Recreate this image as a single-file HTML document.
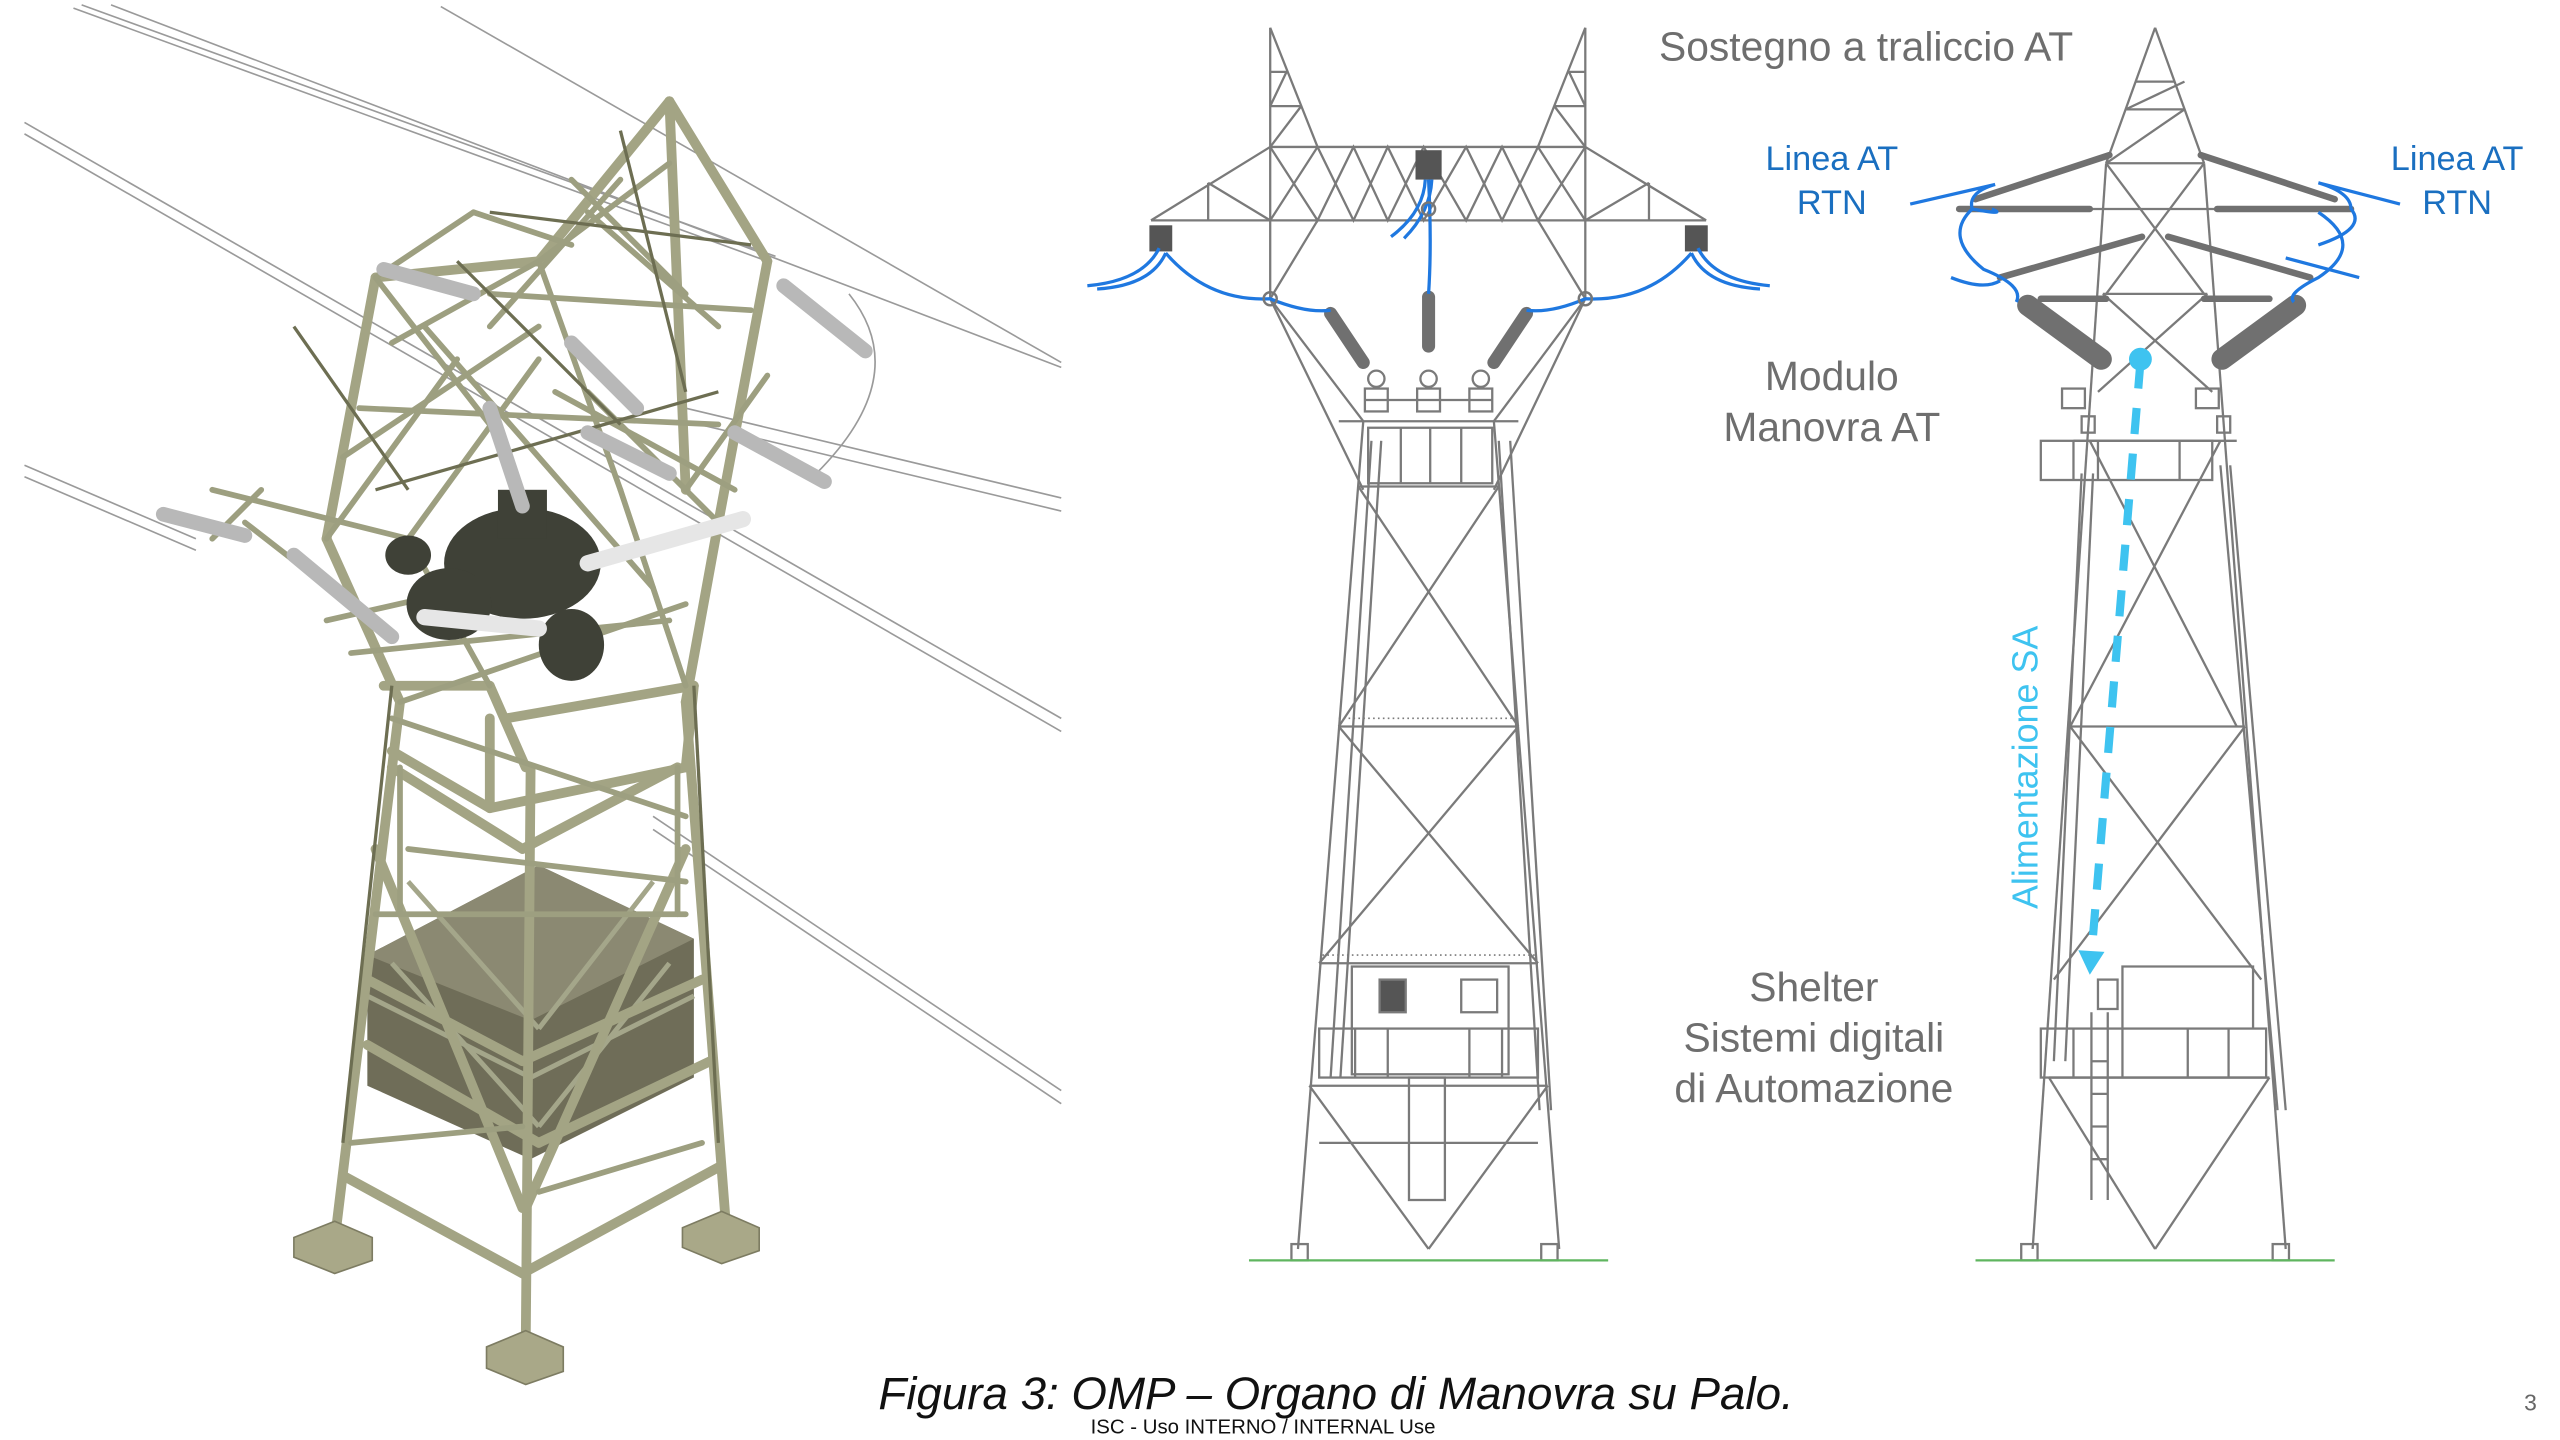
<!DOCTYPE html>
<html><head><meta charset="utf-8"><style>
html,body{margin:0;padding:0;background:#fff;}
svg{display:block;}
</style></head><body>
<svg width="2560" height="1440" viewBox="0 0 1568 882" xmlns="http://www.w3.org/2000/svg" font-family="Liberation Sans, sans-serif">
<rect width="1568" height="882" fill="#fff"/>

<!-- ===== LEFT 3D TOWER ===== -->
<g stroke="#9a9a9a" stroke-width="1" fill="none">
  <line x1="45" y1="5" x2="470" y2="160"/><line x1="50" y1="3" x2="475" y2="157"/>
  <line x1="68" y1="3" x2="650" y2="225"/><line x1="270" y1="4" x2="650" y2="222"/>
  <line x1="15" y1="75" x2="650" y2="440"/><line x1="15" y1="82" x2="650" y2="448"/>
  <line x1="15" y1="285" x2="120" y2="330"/><line x1="15" y1="292" x2="120" y2="337"/>
  <line x1="420" y1="250" x2="650" y2="305"/><line x1="420" y1="258" x2="650" y2="313"/>
  <line x1="400" y1="500" x2="650" y2="668"/><line x1="400" y1="508" x2="650" y2="676"/>
  <path d="M500 290 Q560 230 520 180"/>
</g>
<!-- shelter box -->
<polygon points="225,585 330,530 425,575 425,660 325,710 225,665" fill="#6f6d58"/>
<polygon points="225,585 330,530 425,575 325,625" fill="#8b8972"/>
<g stroke="#a4a68a" stroke-width="3" fill="none">
  <line x1="225" y1="610" x2="325" y2="660"/><line x1="325" y1="660" x2="425" y2="610"/>
  <line x1="240" y1="590" x2="330" y2="690"/><line x1="410" y1="590" x2="330" y2="690"/>
  <line x1="250" y1="540" x2="330" y2="630"/><line x1="400" y1="540" x2="330" y2="630"/>
</g>
<g stroke="#a3a484" stroke-width="6" fill="none" stroke-linecap="round">
  <!-- legs -->
  <line x1="245" y1="430" x2="205" y2="760"/><line x1="420" y1="430" x2="445" y2="755"/>
  <line x1="325" y1="470" x2="322" y2="825"/><line x1="300" y1="420" x2="322" y2="470"/>
  <line x1="235" y1="420" x2="300" y2="420"/>
  <line x1="240" y1="470" x2="320" y2="520"/><line x1="320" y1="520" x2="415" y2="470"/>
  <line x1="210" y1="720" x2="320" y2="780"/><line x1="320" y1="780" x2="440" y2="715"/>
  <line x1="225" y1="600" x2="320" y2="650"/><line x1="320" y1="650" x2="430" y2="600"/>
  <line x1="230" y1="520" x2="320" y2="740"/><line x1="420" y1="520" x2="322" y2="740"/>
  <line x1="410" y1="62" x2="330" y2="160"/><line x1="410" y1="62" x2="470" y2="160"/>
  <line x1="410" y1="62" x2="420" y2="300"/><line x1="330" y1="160" x2="230" y2="170"/>
  <line x1="230" y1="170" x2="200" y2="330"/><line x1="470" y1="160" x2="440" y2="320"/>
  <line x1="200" y1="330" x2="245" y2="430"/><line x1="440" y1="320" x2="420" y2="430"/>
  <line x1="310" y1="440" x2="425" y2="420"/><line x1="300" y1="495" x2="420" y2="470"/>
  <line x1="300" y1="440" x2="300" y2="495"/><line x1="425" y1="420" x2="420" y2="470"/>
  <line x1="240" y1="460" x2="300" y2="495"/>
  <line x1="225" y1="640" x2="330" y2="700"/><line x1="330" y1="700" x2="435" y2="650"/>
</g>
<g stroke="#9d9f80" stroke-width="3.5" fill="none" stroke-linecap="round">
  <line x1="230" y1="170" x2="300" y2="260"/><line x1="330" y1="160" x2="380" y2="300"/>
  <line x1="130" y1="300" x2="250" y2="330"/><line x1="250" y1="330" x2="330" y2="220"/>
  <line x1="360" y1="130" x2="440" y2="200"/><line x1="300" y1="180" x2="460" y2="190"/>
  <line x1="220" y1="250" x2="440" y2="260"/><line x1="210" y1="280" x2="330" y2="200"/>
  <line x1="340" y1="240" x2="450" y2="300"/><line x1="260" y1="200" x2="400" y2="360"/>
  <line x1="380" y1="110" x2="300" y2="200"/><line x1="150" y1="320" x2="240" y2="390"/>
  <line x1="350" y1="110" x2="420" y2="180"/><line x1="330" y1="160" x2="410" y2="100"/>
  <line x1="230" y1="170" x2="290" y2="130"/><line x1="290" y1="130" x2="350" y2="150"/>
  <line x1="240" y1="210" x2="330" y2="160"/><line x1="200" y1="330" x2="280" y2="220"/>
  <line x1="440" y1="320" x2="360" y2="240"/><line x1="420" y1="300" x2="470" y2="230"/>
  <line x1="250" y1="330" x2="300" y2="420"/><line x1="380" y1="300" x2="420" y2="420"/>
  <line x1="200" y1="380" x2="420" y2="330"/><line x1="215" y1="400" x2="410" y2="380"/>
  <line x1="245" y1="430" x2="420" y2="370"/><line x1="160" y1="300" x2="130" y2="330"/>
  <line x1="245" y1="470" x2="245" y2="560"/><line x1="415" y1="470" x2="415" y2="560"/>
  <line x1="230" y1="560" x2="420" y2="560"/><line x1="240" y1="440" x2="420" y2="500"/>
  <line x1="250" y1="520" x2="420" y2="540"/><line x1="215" y1="700" x2="320" y2="690"/>
  <line x1="430" y1="700" x2="330" y2="730"/>
</g>
<g stroke="#6d6e52" stroke-width="2" fill="none">
  <line x1="240" y1="420" x2="210" y2="700"/><line x1="425" y1="420" x2="440" y2="700"/>
  <line x1="380" y1="80" x2="420" y2="240"/><line x1="180" y1="200" x2="250" y2="300"/>
  <line x1="280" y1="160" x2="380" y2="260"/><line x1="300" y1="130" x2="460" y2="150"/>
  <line x1="230" y1="300" x2="440" y2="240"/>
</g>
<!-- switchgear -->
<g fill="#3f4137">
  <ellipse cx="320" cy="345" rx="48" ry="34"/>
  <ellipse cx="275" cy="370" rx="26" ry="22"/>
  <ellipse cx="350" cy="395" rx="20" ry="22"/>
  <rect x="305" y="300" width="30" height="30"/>
  <ellipse cx="250" cy="340" rx="14" ry="12"/>
</g>
<g stroke="#b8b8b8" stroke-width="9" stroke-linecap="round">
  <line x1="235" y1="165" x2="290" y2="180"/><line x1="480" y1="175" x2="530" y2="215"/>
  <line x1="450" y1="265" x2="505" y2="295"/><line x1="360" y1="265" x2="410" y2="290"/>
  <line x1="100" y1="315" x2="150" y2="328"/><line x1="180" y1="340" x2="240" y2="390"/>
  <line x1="300" y1="250" x2="320" y2="310"/><line x1="350" y1="210" x2="390" y2="250"/>
</g>
<g stroke="#e6e6e6" stroke-width="10" stroke-linecap="round">
  <line x1="360" y1="345" x2="455" y2="318"/><line x1="260" y1="378" x2="330" y2="385"/>
</g>
<g fill="#a9a888" stroke="#7d7c62">
  <polygon points="180,758 205,748 228,758 228,772 205,780 180,770"/>
  <polygon points="418,752 442,742 465,752 465,766 442,774 418,764"/>
  <polygon points="298,825 322,815 345,825 345,840 322,848 298,838"/>
</g>

<!-- ===== MIDDLE TOWER ===== -->
<g stroke="#7a7a7a" stroke-width="1.4" fill="none">
  <line x1="778" y1="17" x2="778" y2="183"/><line x1="778" y1="17" x2="807" y2="90"/>
  <line x1="971" y1="17" x2="971" y2="183"/><line x1="971" y1="17" x2="942" y2="90"/>
  <line x1="778" y1="44" x2="788" y2="44"/><line x1="778" y1="65" x2="797" y2="65"/>
  <line x1="971" y1="44" x2="961" y2="44"/><line x1="971" y1="65" x2="952" y2="65"/>
  <line x1="778" y1="65" x2="788" y2="44"/><line x1="971" y1="65" x2="961" y2="44"/>
  <line x1="778" y1="90" x2="797" y2="65"/><line x1="971" y1="90" x2="952" y2="65"/>
  <line x1="778" y1="90" x2="971" y2="90"/><line x1="705" y1="135" x2="1045" y2="135"/>
  <line x1="778" y1="90" x2="705" y2="135"/><line x1="971" y1="90" x2="1045" y2="135"/>
  <polyline points="778,90 807,135 829,90 850,135 872,90 898,135 920,90 942,135 971,90"/>
  <polyline points="778,135 807,90 829,135 850,90 872,135 898,90 920,135 942,90 971,135"/>
  <line x1="740" y1="112" x2="740" y2="135"/><line x1="1010" y1="112" x2="1010" y2="135"/>
  <line x1="740" y1="112" x2="778" y2="135"/><line x1="1010" y1="112" x2="971" y2="135"/>
  <line x1="807" y1="135" x2="778" y2="183"/><line x1="942" y1="135" x2="971" y2="183"/>
  <line x1="778" y1="183" x2="835" y2="258"/><line x1="971" y1="183" x2="915" y2="258"/>
  <line x1="778" y1="183" x2="835" y2="300"/><line x1="971" y1="183" x2="915" y2="300"/>
  <line x1="820" y1="258" x2="930" y2="258"/>
  <line x1="835" y1="258" x2="795" y2="765"/><line x1="915" y1="258" x2="955" y2="765"/>
  <line x1="832" y1="298" x2="918" y2="298"/><line x1="820" y1="445" x2="930" y2="445"/>
  <line x1="808" y1="590" x2="942" y2="590"/><line x1="802" y1="665" x2="948" y2="665"/>
  <line x1="832" y1="298" x2="930" y2="445"/><line x1="918" y1="298" x2="820" y2="445"/>
  <line x1="820" y1="445" x2="942" y2="590"/><line x1="930" y1="445" x2="808" y2="590"/>
  <line x1="802" y1="665" x2="875" y2="765"/><line x1="948" y1="665" x2="875" y2="765"/>
  <line x1="808" y1="700" x2="942" y2="700"/>
  <line x1="925" y1="270" x2="950" y2="680"/><line x1="918" y1="270" x2="943" y2="680"/>
  <line x1="840" y1="270" x2="815" y2="660"/><line x1="846" y1="270" x2="821" y2="660"/>
  <rect x="838" y="262" width="76" height="34"/>
  <line x1="858" y1="262" x2="858" y2="296"/><line x1="876" y1="262" x2="876" y2="296"/><line x1="895" y1="262" x2="895" y2="296"/>
  <rect x="828" y="592" width="96" height="66"/>
  <rect x="845" y="600" width="16" height="20" fill="#555"/>
  <rect x="895" y="600" width="22" height="20"/>
  <rect x="808" y="630" width="134" height="30"/>
  <line x1="830" y1="630" x2="830" y2="660"/><line x1="850" y1="630" x2="850" y2="660"/><line x1="900" y1="630" x2="900" y2="660"/><line x1="920" y1="630" x2="920" y2="660"/>
  <rect x="863" y="660" width="22" height="75"/>
  <rect x="791" y="762" width="10" height="10"/><rect x="944" y="762" width="10" height="10"/>
  <rect x="836" y="238" width="14" height="14"/><rect x="868" y="238" width="14" height="14"/><rect x="900" y="238" width="14" height="14"/>
  <line x1="836" y1="245" x2="914" y2="245"/>
  <circle cx="843" cy="232" r="5"/><circle cx="875" cy="232" r="5"/><circle cx="907" cy="232" r="5"/>
</g>
<g stroke="#7a7a7a" stroke-width="1"><line x1="820" y1="440" x2="930" y2="440" stroke-dasharray="1 2"/><line x1="810" y1="585" x2="940" y2="585" stroke-dasharray="1 2"/></g>
<line x1="765" y1="772" x2="985" y2="772" stroke="#5fb55f" stroke-width="1.4"/>
<g stroke="#707070" stroke-width="8" stroke-linecap="round">
  <line x1="815" y1="192" x2="835" y2="222"/><line x1="875" y1="182" x2="875" y2="212"/><line x1="935" y1="192" x2="915" y2="222"/>
</g>
<g fill="#555"><rect x="867" y="92" width="16" height="18"/><rect x="704" y="138" width="14" height="16"/><rect x="1032" y="138" width="14" height="16"/></g>
<g stroke="#1f78e0" stroke-width="2" fill="none">
  <path d="M666 175 Q700 172 710 152"/><path d="M672 177 Q705 175 714 155"/>
  <path d="M714 155 Q740 185 778 183 Q800 192 815 190"/>
  <path d="M1084 175 Q1050 172 1040 152"/><path d="M1078 177 Q1045 175 1036 155"/>
  <path d="M1036 155 Q1010 185 971 183 Q950 192 935 190"/>
  <path d="M873 110 Q872 130 852 145"/><path d="M877 110 Q876 130 860 146"/>
  <path d="M875 110 Q877 150 875 180"/>
</g>
<g stroke="#777" fill="none" stroke-width="1.5"><circle cx="778" cy="183" r="4"/><circle cx="971" cy="183" r="4"/><circle cx="875" cy="128" r="4"/></g>

<!-- ===== RIGHT TOWER ===== -->
<g stroke="#7a7a7a" stroke-width="1.4" fill="none">
  <line x1="1320" y1="17" x2="1290" y2="100"/><line x1="1320" y1="17" x2="1350" y2="100"/>
  <line x1="1290" y1="100" x2="1245" y2="765"/><line x1="1350" y1="100" x2="1400" y2="765"/>
  <line x1="1308" y1="50" x2="1332" y2="50"/><line x1="1302" y1="67" x2="1338" y2="67"/>
  <line x1="1290" y1="100" x2="1350" y2="100"/><line x1="1302" y1="67" x2="1338" y2="50"/>
  <line x1="1290" y1="100" x2="1338" y2="67"/>
  <line x1="1290" y1="100" x2="1350" y2="180"/><line x1="1350" y1="100" x2="1290" y2="180"/>
  <line x1="1200" y1="128" x2="1440" y2="128"/><line x1="1288" y1="180" x2="1352" y2="180"/>
  <line x1="1288" y1="180" x2="1355" y2="240"/><line x1="1352" y1="180" x2="1285" y2="240"/>
  <line x1="1270" y1="270" x2="1370" y2="270"/>
  <line x1="1280" y1="270" x2="1370" y2="445"/><line x1="1360" y1="270" x2="1268" y2="445"/>
  <line x1="1268" y1="445" x2="1375" y2="445"/>
  <line x1="1268" y1="445" x2="1385" y2="600"/><line x1="1375" y1="445" x2="1258" y2="600"/>
  <line x1="1255" y1="660" x2="1390" y2="660"/>
  <line x1="1255" y1="660" x2="1320" y2="765"/><line x1="1390" y1="660" x2="1320" y2="765"/>
  <rect x="1250" y="270" width="105" height="24"/>
  <line x1="1270" y1="270" x2="1270" y2="294"/><line x1="1285" y1="270" x2="1285" y2="294"/><line x1="1335" y1="270" x2="1335" y2="294"/>
  <rect x="1263" y="238" width="14" height="12"/><rect x="1345" y="238" width="14" height="12"/>
  <rect x="1275" y="255" width="8" height="10"/><rect x="1358" y="255" width="8" height="10"/>
  <line x1="1360" y1="285" x2="1395" y2="680"/><line x1="1366" y1="285" x2="1400" y2="680"/>
  <line x1="1275" y1="290" x2="1258" y2="650"/><line x1="1282" y1="290" x2="1265" y2="650"/>
  <rect x="1250" y="630" width="138" height="30"/>
  <line x1="1270" y1="630" x2="1270" y2="660"/><line x1="1300" y1="630" x2="1300" y2="660"/><line x1="1340" y1="630" x2="1340" y2="660"/><line x1="1365" y1="630" x2="1365" y2="660"/>
  <path d="M1300 630 L1300 592 L1380 592 L1380 630"/>
  <rect x="1285" y="600" width="12" height="18"/>
  <line x1="1281" y1="620" x2="1281" y2="735"/><line x1="1291" y1="620" x2="1291" y2="735"/>
  <line x1="1281" y1="650" x2="1291" y2="650"/><line x1="1281" y1="670" x2="1291" y2="670"/><line x1="1281" y1="690" x2="1291" y2="690"/><line x1="1281" y1="710" x2="1291" y2="710"/>
  <rect x="1238" y="762" width="10" height="10"/><rect x="1392" y="762" width="10" height="10"/>
</g>
<line x1="1210" y1="772" x2="1430" y2="772" stroke="#5fb55f" stroke-width="1.4"/>
<g stroke="#707070" stroke-width="4" stroke-linecap="round">
  <line x1="1292" y1="95" x2="1210" y2="122"/><line x1="1348" y1="95" x2="1430" y2="122"/>
  <line x1="1200" y1="128" x2="1280" y2="128"/><line x1="1358" y1="128" x2="1440" y2="128"/>
  <line x1="1312" y1="145" x2="1225" y2="170"/><line x1="1328" y1="145" x2="1415" y2="170"/>
  <line x1="1250" y1="183" x2="1290" y2="183"/><line x1="1350" y1="183" x2="1390" y2="183"/>
</g>
<g stroke="#707070" stroke-width="13" stroke-linecap="round">
  <line x1="1242" y1="187" x2="1287" y2="220"/><line x1="1406" y1="187" x2="1361" y2="220"/>
</g>
<g stroke="#1f78e0" stroke-width="2" fill="none">
  <path d="M1170 125 L1222 113 Q1205 118 1208 128 Q1230 132 1220 128"/>
  <path d="M1208 128 Q1190 145 1215 165 Q1240 175 1235 185"/>
  <path d="M1195 170 Q1215 178 1225 172"/>
  <path d="M1470 125 L1420 112 Q1440 118 1440 128 Q1450 140 1420 150"/>
  <path d="M1420 130 Q1450 150 1420 170 Q1400 180 1405 185"/>
  <path d="M1445 170 L1400 158"/>
</g>
<circle cx="1311" cy="220" r="7" fill="#3ec3f0"/>
<line x1="1311" y1="222" x2="1281" y2="585" stroke="#3ec3f0" stroke-width="5" stroke-dasharray="16 12"/>
<polygon points="1273,582 1289,583 1280,597" fill="#3ec3f0"/>
<text transform="translate(1248 470) rotate(-90)" text-anchor="middle" font-size="22" fill="#3ec3f0">Alimentazione SA</text>

<g fill="#6e6e6e" font-size="25" text-anchor="middle">
  <text x="1143" y="37">Sostegno a traliccio AT</text>
  <text x="1122" y="239">Modulo</text>
  <text x="1122" y="270">Manovra AT</text>
  <text x="1111" y="613">Shelter</text>
  <text x="1111" y="644">Sistemi digitali</text>
  <text x="1111" y="675">di Automazione</text>
</g>
<g fill="#1a6fc0" font-size="21" text-anchor="middle">
  <text x="1122" y="104">Linea AT</text><text x="1122" y="131">RTN</text>
  <text x="1505" y="104">Linea AT</text><text x="1505" y="131">RTN</text>
</g>
<text x="538" y="863" font-size="28" font-style="italic" fill="#111">Figura 3: OMP – Organo di Manovra su Palo.</text>
<text x="668" y="878" font-size="12.5" fill="#111">ISC - Uso INTERNO / INTERNAL Use</text>
<text x="1546" y="864" font-size="14" fill="#666">3</text>
</svg>
</body></html>
